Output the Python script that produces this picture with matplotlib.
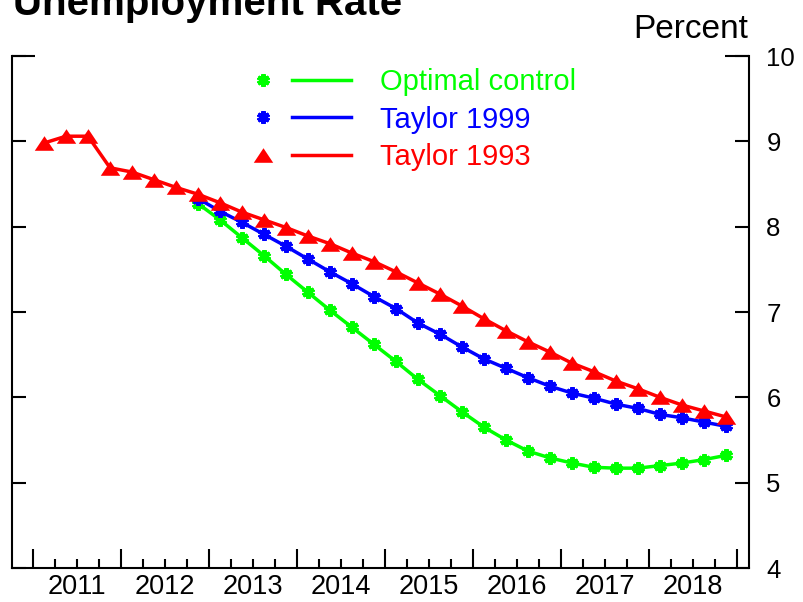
import matplotlib
matplotlib.use('Agg')
import matplotlib.pyplot as plt
from matplotlib.lines import Line2D
from matplotlib.legend_handler import HandlerTuple
import numpy as np

plt.rcParams['font.family'] = ['Liberation Sans', 'DejaVu Sans']

# quarterly data, 2011Q1 - 2018Q4
start_year = 2011
n_quarters = 32
year_labels = ['2011', '2012', '2013', '2014', '2015', '2016', '2017', '2018']

taylor1993 = [8.98, 9.06, 9.06, 8.69,
              8.64, 8.55, 8.46, 8.38,
              8.28, 8.17, 8.08, 7.99,
              7.89, 7.80, 7.69, 7.59,
              7.47, 7.34, 7.21, 7.07,
              6.92, 6.78, 6.65, 6.53,
              6.40, 6.30, 6.19, 6.10,
              6.00, 5.91, 5.84, 5.77]

# these two start in 2012Q4
taylor1999 = [8.33,
              8.18, 8.05, 7.91, 7.77,
              7.62, 7.47, 7.33, 7.18,
              7.04, 6.87, 6.74, 6.59,
              6.45, 6.34, 6.23, 6.13,
              6.05, 5.99, 5.92, 5.87,
              5.80, 5.76, 5.71, 5.66]

optimal = [8.27,
           8.08, 7.87, 7.66, 7.44,
           7.23, 7.02, 6.82, 6.62,
           6.42, 6.21, 6.02, 5.83,
           5.65, 5.50, 5.37, 5.29,
           5.23, 5.18, 5.17, 5.17,
           5.20, 5.23, 5.27, 5.32]

labels = ['Optimal control', 'Taylor 1999', 'Taylor 1993']
colors = ['#00ff00', '#0000ff', '#ff0000']

x = start_year + (np.arange(n_quarters) + 0.5) / 4
x_sim = x[-len(optimal):]

tri = [(-1, -0.75), (1, -0.75), (0, 0.75), (-1, -0.75)]
star = (6, 2, 0)

fig = plt.figure(figsize=(8.04, 6.02), dpi=100)
ax = fig.add_axes([12/804, 1 - 568/602, 737/804, 512/602])

ax.plot(x_sim, optimal, color=colors[0], lw=2.5, marker=star, ms=9, mew=3, zorder=2)
ax.plot(x_sim, taylor1999, color=colors[1], lw=2.5, marker=star, ms=9, mew=3, zorder=3)
ax.plot(x, taylor1993, color=colors[2], lw=2.5, marker=tri, ms=14, mew=0, zorder=4)

ax.set_xlim(start_year - 21/88, start_year + 8 + 12/88)
ax.set_ylim(4, 10)

ax.set_xticks(np.arange(start_year, start_year + 9))
ax.set_xticks(np.arange(start_year, start_year + 8.01, 0.25), minor=True)
ax.tick_params(axis='x', which='major', direction='in', length=13.5, width=1.5, labelbottom=False)
ax.tick_params(axis='x', which='minor', direction='in', length=6.5, width=1.5)
for i, lab in enumerate(year_labels):
    ax.text(start_year + i + 0.5, -0.012, lab, transform=ax.get_xaxis_transform(),
            ha='center', va='top', fontsize=19.5)

ax.set_yticks(range(4, 11))
ax.tick_params(axis='y', direction='in', left=True, right=True, labelleft=False,
               labelright=True, length=10, width=1.5, labelsize=18.5, pad=12.5)

ax.spines['top'].set_visible(False)
for s in ['left', 'right', 'bottom']:
    ax.spines[s].set_linewidth(1.5)

# longer ticks at the top corners
ax.plot([0, 23/737], [1, 1], transform=ax.transAxes, color='k', lw=1.5,
        clip_on=False, solid_capstyle='butt')
ax.plot([1 - 24/737, 1], [1, 1], transform=ax.transAxes, color='k', lw=1.5,
        clip_on=False, solid_capstyle='butt')

fig.text(748/804, 1 - 38/602, 'Percent', ha='right', va='baseline', fontsize=24)
fig.text(13/804, 1 - 15/602, 'Unemployment Rate', ha='left', va='baseline',
         fontsize=29, fontweight='bold')

handles = [
    (Line2D([], [], color=colors[0], ls='none', marker=star, ms=9, mew=3),
     Line2D([], [], color=colors[0], lw=2.5)),
    (Line2D([], [], color=colors[1], ls='none', marker=star, ms=9, mew=3),
     Line2D([], [], color=colors[1], lw=2.5)),
    (Line2D([], [], color=colors[2], ls='none', marker=tri, ms=14, mew=0),
     Line2D([], [], color=colors[2], lw=2.5)),
]
leg = ax.legend(handles, labels, handler_map={tuple: HandlerTuple(ndivide=None, pad=0)},
                loc='upper left', bbox_to_anchor=(233/804, 1 - 68/602),
                bbox_transform=fig.transFigure, frameon=False, fontsize=21,
                handlelength=4.05, handletextpad=1.0, labelspacing=0.33,
                borderpad=0, borderaxespad=0)
for t, c in zip(leg.get_texts(), colors):
    t.set_color(c)

plt.savefig('out.png', dpi=100)
